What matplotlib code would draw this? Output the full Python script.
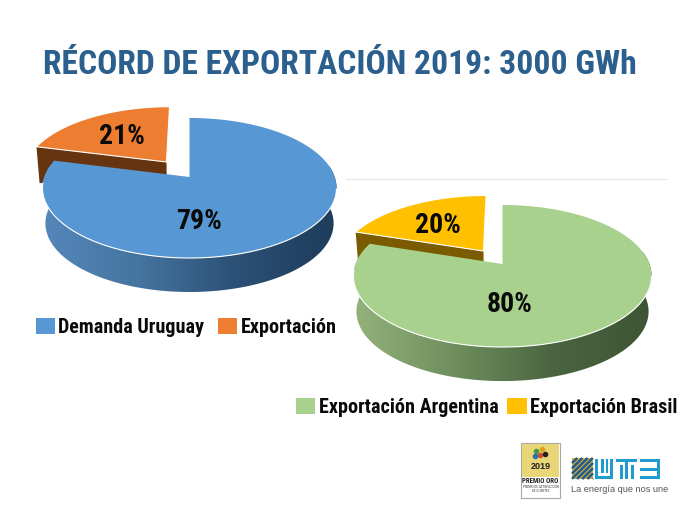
import numpy as np
import matplotlib
matplotlib.use("Agg")
import matplotlib.pyplot as plt
from matplotlib.patches import Polygon, Rectangle
from matplotlib.colors import LinearSegmentedColormap

FONT = ['Roboto Condensed', 'DejaVu Sans']

title = "RÉCORD DE EXPORTACIÓN 2019: 3000 GWh"
left_labels = ["Demanda Uruguay", "Exportación"]
left_values = [79, 21]
right_labels = ["Exportación Argentina", "Exportación Brasil"]
right_values = [80, 20]

fig = plt.figure(figsize=(6.8, 5.1), dpi=100, facecolor="white")
ax = fig.add_axes([0, 0, 1, 1])
ax.set_xlim(0, 680)
ax.set_ylim(510, 0)
ax.axis("off")


class Pie3D:
    """Perspective projection of a flat disc, so the exploded slice shrinks with distance."""
    def __init__(self, x0, y0, A, B, k, D, s=0.98):
        self.x0, self.y0, self.A, self.B, self.k, self.D, self.s = x0, y0, A, B, k, D, s

    def proj(self, u, v, low=False):
        den = 1 + self.k * v
        sc = self.s if low else 1.0
        dy = self.D if low else 0.0
        return np.column_stack([self.x0 + sc * self.B * u / den,
                                self.y0 + dy - sc * self.A * v / den])

    def arc(self, t0, t1, cu=0.0, cv=0.0, low=False, n=240):
        t = np.radians(np.linspace(t0, t1, n))
        return self.proj(cu + np.sin(t), cv + np.cos(t), low)


def gradient_side(pts, colors, x0, x1, zorder):
    cmap = LinearSegmentedColormap.from_list("g", colors)
    poly = Polygon(pts, closed=True, fc="none", ec="none", zorder=zorder)
    ax.add_patch(poly)
    ys = pts[:, 1]
    im = ax.imshow(np.linspace(0, 1, 256)[None, :], cmap=cmap, aspect="auto",
                   extent=[x0, x1, ys.max() + 1, ys.min() - 1], zorder=zorder)
    im.set_clip_path(poly)
    ax.set_xlim(0, 680)
    ax.set_ylim(510, 0)


def draw_pie(pie, values, cu, cv, main_c, slice_c, wall_c, side_cols):
    split = 360 * values[0] / sum(values)
    su = np.array([cu + np.sin(np.radians(split))])
    sv = np.array([cv + np.cos(np.radians(split))])
    p_end = pie.proj(su, sv)
    p_apex = pie.proj(np.array([cu]), np.array([cv]))
    l_end = pie.proj(su, sv, low=True)
    l_apex = pie.proj(np.array([cu]), np.array([cv]), low=True)
    ax.add_patch(Polygon(np.vstack([p_end, p_apex, l_apex, l_end]), closed=True,
                         fc=wall_c, ec="none", zorder=2))
    top = np.vstack([p_apex, pie.arc(split, 360, cu, cv)])
    ax.add_patch(Polygon(top, closed=True, fc=slice_c, ec="white", lw=0.8, zorder=3))
    rim = pie.arc(80, 280)
    low = pie.arc(80, 280, low=True)
    gradient_side(np.vstack([rim, low[::-1]]), side_cols,
                  pie.x0 - pie.B - 3, pie.x0 + pie.B + 3, 4)
    face = np.vstack([pie.proj(np.array([0.0]), np.array([0.0])), pie.arc(0, split)])
    ax.add_patch(Polygon(face, closed=True, fc=main_c, ec="none", zorder=5))
    edge = pie.arc(100, 265)
    ax.plot(edge[:, 0], edge[:, 1], color="white", lw=0.8, zorder=6)


ax.plot([346, 667], [180, 180], color="#e6e6e6", lw=0.8, zorder=1)

left = Pie3D(189.5, 178, 68.3, 145.2, 0.157, 35.6)
right = Pie3D(502.5, 265, 69.0, 146.9, 0.169, 35.7)
draw_pie(left, left_values, -0.164, 0.2275, "#5797d3", "#ed7d31", "#673410",
         ["#5587bb", "#44749f", "#2b4f75", "#1f3c5a"])
draw_pie(right, right_values, -0.1336, 0.194, "#a9d18e", "#ffc000", "#7a5b00",
         ["#93b27c", "#6f8f5e", "#4a6540", "#3d5434"])

ax.text(340, 65, title, ha="center", va="center", family=FONT, weight="bold",
        fontsize=24.2, color="#2b5f8e", zorder=10)

lab = dict(ha="center", va="center", family=FONT, weight="bold", fontsize=20,
           color="#0a0a0a", zorder=10)
ax.text(199.5, 221.5, f"{left_values[0]}%", **lab)
ax.text(122, 136.5, f"{left_values[1]}%", **lab)
ax.text(510, 304.5, f"{right_values[0]}%", **lab)
ax.text(438, 225.5, f"{right_values[1]}%", **lab)


def legend_item(x, y, w, color, label, tx):
    ax.add_patch(Rectangle((x, y), w, 16, fc=color, ec="none", zorder=10))
    ax.text(tx, y + 8.5, label, ha="left", va="center", family=FONT, weight="bold",
            fontsize=14.5, color="#0a0a0a", zorder=10)


legend_item(36, 319, 19, "#5797d3", left_labels[0], 58)
legend_item(218, 319, 19, "#ed7d31", left_labels[1], 241)
legend_item(296, 399, 19, "#a9d18e", right_labels[0], 319)
legend_item(507, 399, 20, "#ffc000", right_labels[1], 530)

ax.add_patch(Rectangle((521, 444), 39, 55, fc="white", ec="#a9a9a0", lw=0.8, zorder=10))
ax.add_patch(Rectangle((522, 445), 37, 33, fc="#e8d678", ec="none", zorder=10))
for (mx, my, mc) in [(536, 452, "#3f9a4a"), (542, 450, "#e0a020"), (540, 456, "#d04a30"),
                     (535, 457, "#2f6fb0"), (545, 455, "#222222")]:
    ax.plot([mx], [my], "o", ms=3, color=mc, zorder=11)
ax.text(540.5, 467, "2019", ha="center", va="center", family="Liberation Sans",
        weight="bold", fontsize=6.5, color="#222222", zorder=11)
ax.text(540.5, 481, "PREMIO ORO", ha="center", va="center", family=FONT, weight="bold",
        fontsize=5, color="#222222", zorder=11)
ax.text(540.5, 489, "PREMIO DE SATISFACCIÓN\nDE CLIENTES", ha="center", va="center", family=FONT,
        fontsize=2.4, color="#444444", linespacing=1.1, zorder=11)

ax.add_patch(Rectangle((572, 459), 21, 21, fc="#d9a93a", ec="none", zorder=10))
for off in np.arange(-21, 21, 5.2):
    xa = np.array([572 + max(off, 0), 572 + min(off + 21, 21)])
    ya = np.array([480 - max(-off, 0), 480 - min(21 - off, 21) + 0])
    ax.plot(xa, ya, color="#1d5d8f", lw=1.8, zorder=11, solid_capstyle="butt")
UTE = "#1f9bd0"
bars = [(595, 460, 3, 20), (595, 477, 18, 3), (610, 460, 3, 20), (601, 460, 2.5, 14), (605.5, 460, 2.5, 14),
        (616, 460, 21, 3), (625, 460, 3, 20), (620, 466, 2.5, 14), (631, 466, 2.5, 14),
        (640, 460, 20, 3), (640, 468.5, 20, 3), (640, 477, 20, 3), (657, 460, 3, 20)]
for b in bars:
    ax.add_patch(Rectangle((b[0], b[1]), b[2], b[3], fc=UTE, ec="none", zorder=11))
ax.text(571, 490, "La energía que nos une", ha="left", va="center", family="Liberation Sans",
        fontsize=6.6, color="#555555", zorder=11)

fig.savefig("out.png", dpi=100, facecolor="white")
